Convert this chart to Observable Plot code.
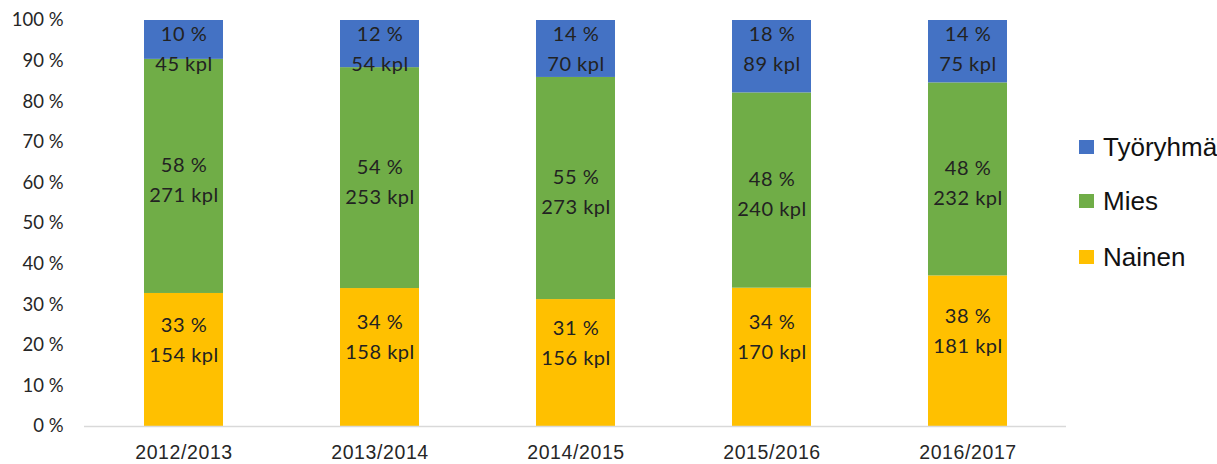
<!DOCTYPE html>
<html>
<head>
<meta charset="utf-8">
<script src="https://cdn.jsdelivr.net/npm/d3@7"></script>
<script src="https://cdn.jsdelivr.net/npm/@observablehq/plot@0.6"></script>
<style>
  body { margin: 0; background: #fff; }
  #wrap { position: relative; width: 1217px; height: 464px; }
  #legend { position: absolute; left: 1079px; top: 0; font-family: "Liberation Sans", Arial, sans-serif; font-size: 26px; color: #111; }
  .item { position: absolute; left: 0; display: flex; align-items: center; white-space: nowrap; }
  .sw { width: 15px; height: 14px; margin-right: 9px; }
  svg g[aria-label="text"] text { letter-spacing: 0.5px; }
  svg g[aria-label="x-axis tick label"] text { letter-spacing: 0.6px; }
</style>
</head>
<body>
<div id="wrap"></div>
<script>
const years = ["2012/2013", "2013/2014", "2014/2015", "2015/2016", "2016/2017"];
const seriesNames = ["Nainen", "Mies", "Työryhmä"];
const seriesColors = ["#FFC000", "#70AD47", "#4472C4"];
const nainenCount = [154, 158, 156, 170, 181];
const miesCount = [271, 253, 273, 240, 232];
const tyoryhmaCount = [45, 54, 70, 89, 75];
const nainenPct = [33, 34, 31, 34, 38];
const miesPct = [58, 54, 55, 48, 48];
const tyoryhmaPct = [10, 12, 14, 18, 14];
const yTicks = [0, 0.1, 0.2, 0.3, 0.4, 0.5, 0.6, 0.7, 0.8, 0.9, 1];

const counts = [nainenCount, miesCount, tyoryhmaCount];
const pcts = [nainenPct, miesPct, tyoryhmaPct];
const data = [];
years.forEach((yr, i) => {
  seriesNames.forEach((s, j) => {
    data.push({year: yr, series: s, n: counts[j][i], pct: pcts[j][i]});
  });
});

const stackOpts = {x: "year", y: "n", z: "series", offset: "normalize", order: seriesNames};
const labelText = d => `${d.pct} %\n${d.n} kpl`;
const labelStyle = {fontFamily: "Lato, 'Open Sans', sans-serif", fontSize: 20, fill: "#222", lineHeight: 1.5};

const chart = Plot.plot({
  width: 1217,
  height: 464,
  marginLeft: 84,
  marginRight: 151,
  marginTop: 20,
  marginBottom: 38,
  style: {fontFamily: "'Liberation Sans', Arial, sans-serif", background: "#fff"},
  x: {domain: years, paddingInner: 0.598, paddingOuter: 0.299, label: null},
  y: {domain: [0, 1], label: null},
  color: {domain: seriesNames, range: seriesColors},
  marks: [
    Plot.barY(data, Plot.stackY({...stackOpts, fill: "series"})),
    Plot.ruleY([0], {stroke: "#d9d9d9", strokeWidth: 1.5}),
    Plot.axisY({ticks: yTicks, tickSize: 0, tickPadding: 21, tickFormat: d => `${Math.round(d * 100)} %`,
      fontSize: 18.5, fontFamily: "Lato, sans-serif", fill: "#262626", label: null}),
    Plot.axisX({tickSize: 0, tickPadding: 19, fontSize: 19.5, fill: "#262626", label: null}),
    Plot.text(data, {...Plot.stackY2({...stackOpts, text: labelText}), filter: d => d.series === "Työryhmä",
      dy: 26, ...labelStyle}),
    Plot.text(data, {...Plot.stackY({...stackOpts, text: labelText}), filter: d => d.series === "Mies",
      dy: 1, ...labelStyle}),
    Plot.text(data, {...Plot.stackY({...stackOpts, text: labelText}), filter: d => d.series === "Nainen",
      dy: -23, ...labelStyle})
  ]
});

const wrap = document.getElementById("wrap");
wrap.appendChild(chart);

const legend = document.createElement("div");
legend.id = "legend";
const legendOrder = ["Työryhmä", "Mies", "Nainen"];
const legendTops = [147, 201, 257];
legendOrder.forEach((name, k) => {
  const item = document.createElement("div");
  item.className = "item";
  item.style.top = (legendTops[k] - 15) + "px";
  item.style.height = "30px";
  const sw = document.createElement("div");
  sw.className = "sw";
  sw.style.background = seriesColors[seriesNames.indexOf(name)];
  const t = document.createElement("span");
  t.textContent = name;
  item.appendChild(sw);
  item.appendChild(t);
  legend.appendChild(item);
});
wrap.appendChild(legend);
</script>
</body>
</html>
